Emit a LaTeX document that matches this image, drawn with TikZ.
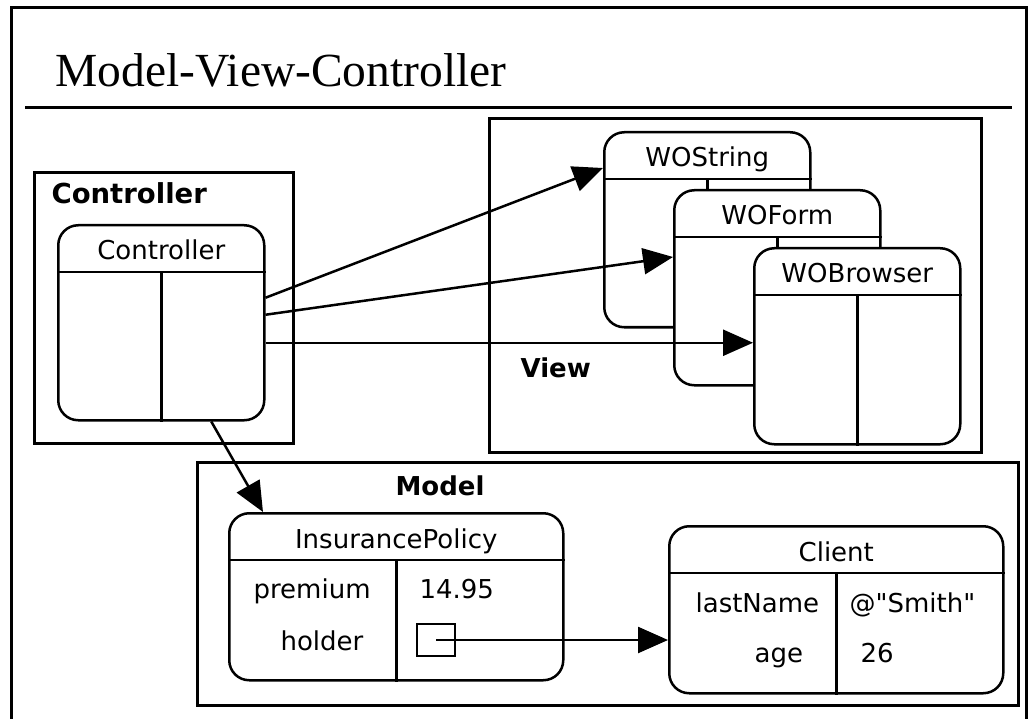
\documentclass[tikz,border=0pt]{standalone}
\usepackage{fontspec}
\setmainfont{Liberation Serif}
\setsansfont{DejaVu Sans}
\usepackage{tikz}
\usetikzlibrary{arrows.meta,calc,positioning}
% object box: name, north west corner, width, height, class name
\newcommand{\objbox}[5]{%
  \node[obj,minimum width=#3,minimum height=#4] (#1) at #2 {};
  \draw ($(#1.north west)+(0,48)$) -- ($(#1.north east)+(0,48)$);
  \draw ($(#1.north)+(0,48)$) -- (#1.south);
  \node[anchor=base] (#1-t) at ($(#1.north)+(0,36)$) {#5};}

\begin{document}
\begin{tikzpicture}[x=1pt,y=-1pt,line width=2.5pt,>={Triangle[length=30pt,width=26pt]},
  every node/.style={font=\sffamily\fontsize{26}{31}\selectfont},
  pkg/.style={draw,line width=2.8pt,anchor=north west,inner sep=0pt},
  obj/.style={draw,fill=white,rounded corners=20pt,anchor=north west,inner sep=0pt},
  lbl/.style={font=\sffamily\bfseries\fontsize{26}{31}\selectfont,anchor=base west},
  val/.style={anchor=base west}]
  \useasboundingbox (0,0) rectangle (1028,719);
  % slide frame and title
  \draw[line width=3pt] (11,730) -- (11,8) -- (1026,8) -- (1026,730);
  \node[font=\rmfamily\fontsize{47.5}{52}\selectfont,anchor=base west] (title) at (51,87) {Model-View-Controller};
  \draw[line width=3pt] (25,108) -- (1012,108);
  % packages
  \node[pkg,minimum width=259pt,minimum height=271pt] (ctrl) at (33,171) {};
  \node[pkg,minimum width=492pt,minimum height=334pt] (view) at (488,117) {};
  \node[pkg,minimum width=821pt,minimum height=243pt] (model) at (196,461) {};
  \node[lbl,font=\sffamily\bfseries\fontsize{27.5}{31}\selectfont] (ctrl-l) at (47,204) {Controller};
  \node[lbl] (view-l) at (516,377) {View};
  \node[lbl] (model-l) at (391,495) {Model};
  % objects
  \objbox{ctl}{(57,224)}{206pt}{195pt}{Controller}
  \objbox{wos}{(603,131)}{206pt}{195pt}{WOString}
  \objbox{wof}{(673,189)}{206pt}{195pt}{WOForm}
  \objbox{wob}{(753,247)}{206pt}{196pt}{WOBrowser}
  \objbox{ins}{(228,512)}{334pt}{167pt}{InsurancePolicy}
  \objbox{cli}{(668,525)}{334pt}{167pt}{Client}
  % attributes
  \node[val] (prem) at (249,598) {premium};
  \node[val] (prem-v) at (415,598) {14.95};
  \node[val] (hold-l) at (276,650) {holder};
  \node[draw,minimum width=38pt,minimum height=32pt,inner sep=0pt] (hold) at (436,640) {};
  \node[val] (last) at (691,612) {lastName};
  \node[val] (last-v) at (845,612) {@\textquotedbl Smith\textquotedbl};
  \node[val] (age) at (750,662) {age};
  \node[val] (age-v) at (856,662) {26};
  % connections
  \draw[->] ($(ctl.east)+(0,-25)$) -- ($(wos.north west)+(0,37)$);
  \draw[->] ($(ctl.east)+(0,-8)$) -- ($(wof.north west)+(0,68)$);
  \draw[->] ($(ctl.east)+(0,20)$) coordinate (c3) -- (c3 -| wob.west);
  \draw[->] ($(ctl.south)+(50,0)$) -- ($(ins.north west)+(35,0)$);
  \draw[->] (hold.center) -- (hold.center -| cli.west);
\end{tikzpicture}
\end{document}
